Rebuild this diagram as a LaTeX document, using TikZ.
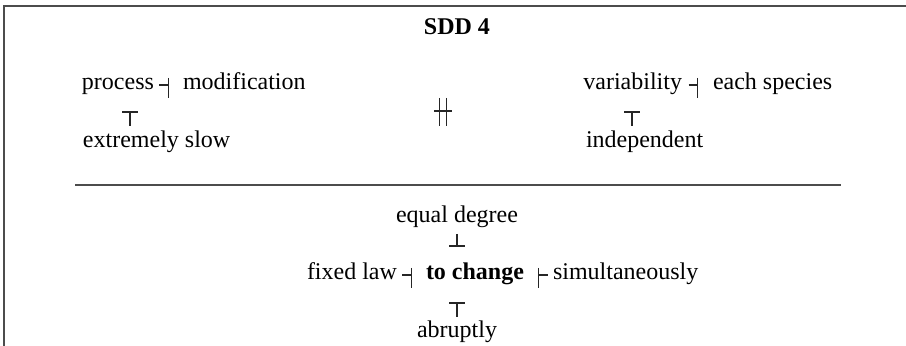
\documentclass[tikz,border=0pt]{standalone}
\usepackage{fontspec}
\setmainfont{Liberation Serif}
\usetikzlibrary{calc}
\tikzset{
  txt/.style={inner sep=0pt,outer sep=0pt,font=\fontsize{12}{14}\selectfont},
  glyph/.style={line width=0.95pt,draw=black!85},
  frame/.style={line width=0.7pt,draw=black!70},
  tackl/.pic={\draw[glyph] (0,-12)--(0,8) (-9,-5)--(0,-5);},
  tackr/.pic={\draw[glyph] (0,-12)--(0,8) (0,-5)--(9,-5);},
  tackd/.pic={\draw[glyph] (-8,0)--(8,0) (0,0)--(0,14);},
  tacku/.pic={\draw[glyph] (0,0)--(0,12) (-8,12)--(8,12);},
  dbltack/.pic={\draw[glyph] (-3.5,-13)--(-3.5,15) (3.5,-13)--(3.5,15) (-9,0)--(9,0);}
}
\begin{document}
\begin{tikzpicture}[x=0.5pt,y=-0.5pt]
\useasboundingbox (0,0) rectangle (906,346);
\draw[frame] (4,346) -- (4,6) -- (906,6);
\node[txt,anchor=base,font=\fontsize{12}{14}\selectfont\bfseries] (title) at (457,35) {SDD 4};
% left group
\node[txt,anchor=base west] (process) at (82,90) {process};
\node[txt,anchor=base west] (modif) at (183,90) {modification};
\node[txt,anchor=base west] (slow) at (83,148) {extremely slow};
\path ($(process.base east)!0.5!(modif.base west)$) pic{tackl};
\path (130,112) pic{tackd};
% middle
\path (443,111) pic{dbltack};
% right group
\node[txt,anchor=base east] (var) at (682,90) {variability};
\node[txt,anchor=base west] (each) at (713,90) {each species};
\node[txt,anchor=base west] (indep) at (586,148) {independent};
\path ($(var.base east)!0.5!(each.base west)$) pic{tackl};
\path (632,112) pic{tackd};
% separator
\coordinate (sepL) at (75,185);
\coordinate (sepR) at (841,185);
\draw[frame] (sepL) -- (sepR);
% bottom group
\node[txt,anchor=base] (equal) at (457,223) {equal degree};
\node[txt,anchor=base west] (fixed) at (307,280) {fixed law};
\node[txt,anchor=base west,font=\fontsize{12}{14}\selectfont\bfseries] (change) at (426,280) {to change};
\node[txt,anchor=base west] (simul) at (553,280) {simultaneously};
\node[txt,anchor=base] (abrupt) at (457,338) {abruptly};
\path (457,234) pic{tacku};
\path ($(fixed.base east)!0.5!(change.base west)$) pic{tackl};
\path ($(change.base east)!0.5!(simul.base west)$) pic{tackr};
\path (457,303) pic{tackd};
\end{tikzpicture}
\end{document}
